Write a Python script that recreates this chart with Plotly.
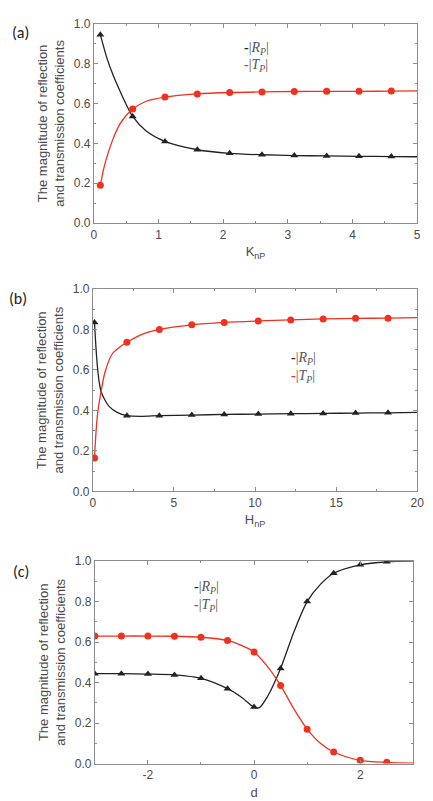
import plotly.graph_objects as go

# ---------------- data ----------------
# Panel (a): versus K_nP
a_mx = [0.1, 0.6, 1.1, 1.6, 2.1, 2.6, 3.1, 3.6, 4.1, 4.6]
a_R = [0.945, 0.535, 0.41, 0.368, 0.35, 0.343, 0.339, 0.337, 0.335, 0.334]
a_T = [0.19, 0.572, 0.632, 0.648, 0.655, 0.658, 0.66, 0.661, 0.661, 0.662]
a_cx_R = [0.1, 0.2, 0.3, 0.4, 0.5, 0.6, 0.8, 1.1, 1.6, 2.1, 2.6, 3.1, 3.6, 4.1, 4.6, 5.0]
a_cy_R = [0.945, 0.83, 0.74, 0.665, 0.595, 0.535, 0.465, 0.41, 0.368, 0.35, 0.343, 0.339, 0.337, 0.335, 0.334, 0.333]
a_cx_T = [0.1, 0.15, 0.2, 0.3, 0.4, 0.5, 0.6, 0.8, 1.1, 1.6, 2.1, 2.6, 3.1, 3.6, 4.1, 4.6, 5.0]
a_cy_T = [0.19, 0.27, 0.33, 0.425, 0.495, 0.54, 0.572, 0.61, 0.632, 0.648, 0.655, 0.658, 0.66, 0.661, 0.661, 0.662, 0.663]

# Panel (b): versus H_nP
b_mx = [0.1, 2.1, 4.1, 6.1, 8.1, 10.2, 12.2, 14.2, 16.2, 18.2]
b_R = [0.834, 0.374, 0.374, 0.377, 0.38, 0.382, 0.384, 0.385, 0.387, 0.388]
b_T = [0.165, 0.737, 0.8, 0.823, 0.835, 0.842, 0.847, 0.852, 0.855, 0.856]
b_cx_R = [0.1, 0.2, 0.3, 0.4, 0.5, 0.75, 1.0, 1.5, 2.1, 3.0, 4.1, 6.1, 8.1, 10.2, 12.2, 14.2, 16.2, 18.2, 20.0]
b_cy_R = [0.834, 0.7, 0.6, 0.535, 0.495, 0.45, 0.42, 0.39, 0.374, 0.371, 0.374, 0.377, 0.38, 0.382, 0.384, 0.385, 0.387, 0.388, 0.39]
b_cx_T = [0.1, 0.2, 0.3, 0.5, 0.75, 1.2, 1.6, 2.1, 3.0, 4.1, 6.1, 8.1, 10.2, 12.2, 14.2, 16.2, 18.2, 20.0]
b_cy_T = [0.165, 0.3, 0.39, 0.49, 0.59, 0.68, 0.71, 0.737, 0.775, 0.8, 0.823, 0.835, 0.842, 0.847, 0.852, 0.855, 0.856, 0.858]

# Panel (c): versus d
c_mx = [-3.0, -2.5, -2.0, -1.5, -1.0, -0.5, 0.0, 0.5, 1.0, 1.5, 2.0, 2.5]
c_R = [0.444, 0.444, 0.442, 0.438, 0.421, 0.37, 0.279, 0.47, 0.8, 0.94, 0.982, 0.997]
c_T = [0.63, 0.63, 0.63, 0.629, 0.624, 0.608, 0.551, 0.386, 0.17, 0.057, 0.016, 0.006]
c_cx_R = [-3.0, -2.5, -2.0, -1.5, -1.0, -0.5, -0.25, 0.0, 0.1, 0.25, 0.5, 0.75, 1.0, 1.25, 1.5, 2.0, 2.5, 3.0]
c_cy_R = [0.444, 0.444, 0.442, 0.438, 0.421, 0.37, 0.33, 0.279, 0.276, 0.33, 0.47, 0.65, 0.8, 0.885, 0.94, 0.982, 0.997, 1.0]
c_cx_T = [-3.0, -2.5, -2.0, -1.5, -1.0, -0.5, -0.25, 0.0, 0.25, 0.5, 0.75, 1.0, 1.25, 1.5, 2.0, 2.5, 3.0]
c_cy_T = [0.63, 0.63, 0.63, 0.629, 0.624, 0.608, 0.585, 0.551, 0.48, 0.386, 0.27, 0.17, 0.1, 0.057, 0.016, 0.006, 0.002]

x_titles = ["K<sub>nP</sub>", "H<sub>nP</sub>", "d"]
panel_labels = ["(a)", "(b)", "(c)"]
y_title = "The magnitude of reflection<br>and transmission coefficients"
x_ranges = [[0, 5], [0, 20], [-3, 3]]
x_tickvals = [[0, 1, 2, 3, 4, 5], [0, 5, 10, 15, 20], [-2, 0, 2]]
x_ticktext = [["0", "1", "2", "3", "4", "5"], ["0", "5", "10", "15", "20"], ["-2", "0", "2"]]
x_minor = [0.5, 2.5, 1]
y_tickvals = [0.0, 0.2, 0.4, 0.6, 0.8, 1.0]
y_ticktext = ["0.0", "0.2", "0.4", "0.6", "0.8", "1.0"]

# ---------------- styling ----------------
W, H = 433, 801
BLACK = "#222222"
RED = "#f2301e"
AX = "#8c8c8c"
TXT = "#4a4a4a"
FONT = "Liberation Sans, Arial, sans-serif"

# plot-area boxes in pixels: (left, right, top, bottom)
boxes = [(93, 424, 17, 220), (92, 424, 287, 493), (94, 420, 564, 770)]
legend_pos = [(245, 42), (293, 358), (193, 591)]
label_pos = [(18, 26), (15, 297), (18, 575)]

fig = go.Figure()

panels = [
    (a_mx, a_R, a_T, a_cx_R, a_cy_R, a_cx_T, a_cy_T),
    (b_mx, b_R, b_T, b_cx_R, b_cy_R, b_cx_T, b_cy_T),
    (c_mx, c_R, c_T, c_cx_R, c_cy_R, c_cx_T, c_cy_T),
]

annotations = []
for i, (mx, R, T, cxR, cyR, cxT, cyT) in enumerate(panels):
    n = "" if i == 0 else str(i + 1)
    xa, ya = "x" + n, "y" + n
    # smooth curves
    fig.add_trace(go.Scatter(x=cxR, y=cyR, xaxis=xa, yaxis=ya, mode="lines",
                             line=dict(color=BLACK, width=1.3, shape="spline", smoothing=0.8),
                             showlegend=False, hoverinfo="skip"))
    fig.add_trace(go.Scatter(x=cxT, y=cyT, xaxis=xa, yaxis=ya, mode="lines",
                             line=dict(color=RED, width=1.3, shape="spline", smoothing=0.8),
                             showlegend=False, hoverinfo="skip"))
    # markers
    fig.add_trace(go.Scatter(x=mx, y=R, xaxis=xa, yaxis=ya, mode="markers", name="|R_P|",
                             marker=dict(symbol="triangle-up", size=7, color=BLACK),
                             showlegend=False))
    fig.add_trace(go.Scatter(x=mx, y=T, xaxis=xa, yaxis=ya, mode="markers", name="|T_P|",
                             marker=dict(symbol="circle", size=7, color=RED),
                             showlegend=False))

    l, r, t, b = boxes[i]
    axis_common = dict(showline=True, linecolor=AX, linewidth=1, mirror="allticks",
                       ticks="inside", ticklen=4, tickcolor=AX, showgrid=False, zeroline=False,
                       tickfont=dict(family=FONT, size=12, color=TXT))
    fig.layout["xaxis" + n] = dict(
        domain=[l / W, r / W], anchor=ya, range=x_ranges[i],
        tickmode="array", tickvals=x_tickvals[i], ticktext=x_ticktext[i],
        minor=dict(dtick=x_minor[i], tick0=0, ticks="inside", ticklen=2, tickcolor=AX, showgrid=False),
        title=dict(text=x_titles[i], font=dict(family=FONT, size=13, color=TXT), standoff=6),
        **axis_common)
    fig.layout["yaxis" + n] = dict(
        domain=[1 - b / H, 1 - t / H], anchor=xa, range=[0, 1],
        tickmode="array", tickvals=y_tickvals, ticktext=y_ticktext,
        minor=dict(dtick=0.1, tick0=0, ticks="inside", ticklen=2, tickcolor=AX, showgrid=False),
        title=dict(text=y_title, font=dict(family=FONT, size=13, color=TXT), standoff=6),
        **axis_common)

    lx, ly = legend_pos[i]
    serif = "Liberation Serif, Times New Roman, serif"
    annotations.append(dict(
        x=lx / W, y=1 - ly / H, xref="paper", yref="paper", xanchor="left", yanchor="middle",
        showarrow=False,
        text="<span style='color:%s'><b>-</b></span>|<i>R<sub>P</sub></i>|" % BLACK,
        font=dict(family=serif, size=14, color="#555")))
    annotations.append(dict(
        x=lx / W, y=1 - (ly + 18) / H, xref="paper", yref="paper", xanchor="left", yanchor="middle",
        showarrow=False,
        text="<span style='color:%s'><b>-</b></span>|<i>T<sub>P</sub></i>|" % RED,
        font=dict(family=serif, size=14, color="#555")))
    px, py = label_pos[i]
    annotations.append(dict(
        x=px / W, y=1 - py / H, xref="paper", yref="paper", xanchor="center", yanchor="middle",
        showarrow=False, text=panel_labels[i],
        font=dict(family="Carlito, Liberation Sans, sans-serif", size=16, color="#222")))

fig.update_layout(width=W, height=H, margin=dict(l=0, r=0, t=0, b=0),
                  plot_bgcolor="white", paper_bgcolor="white",
                  annotations=annotations, showlegend=False)

fig.write_html("out.html")
